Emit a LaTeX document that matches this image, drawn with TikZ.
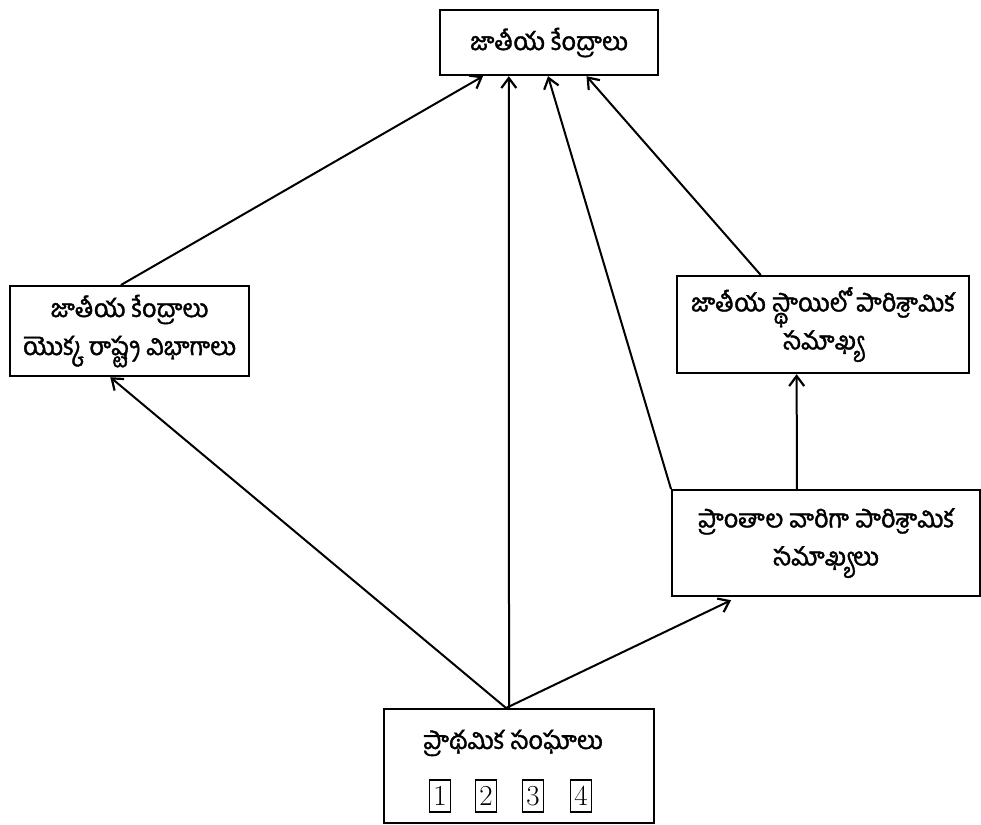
\documentclass[tikz,border=0pt]{standalone}
\usepackage{fontspec}
\newfontfamily\te[Script=Telugu,FakeBold=1.5]{Hind Guntur}
\usetikzlibrary{arrows.meta,calc}
\begin{document}
\begin{tikzpicture}[x=1pt,y=-1pt,
  box/.style={draw, line width=2.2pt, inner sep=0pt, anchor=north west},
  conn/.style={line width=2pt, -{Straight Barb[length=10pt,width=15pt,line width=2.2pt]}},
  lab/.style={font=\te\fontsize{25}{38}\selectfont, align=center, inner sep=0pt},
  num/.style={draw, line width=1.8pt, minimum width=21pt, minimum height=32pt, inner sep=0pt, font=\fontsize{29}{29}\selectfont}
]
\useasboundingbox (0,0) rectangle (981,824);
\fill[white] (0,0) rectangle (981,824);

% boxes
\node[box, minimum width=218pt, minimum height=65pt] (T) at (439,9) {};
\node[lab] (Tt) at (T.center) {జాతీయ కేంద్రాలు};

\node[box, minimum width=239pt, minimum height=90pt] (L) at (9,285) {};
\node[lab] (Lt) at (L.center) {జాతీయ కేంద్రాలు\\యొక్క రాష్ట్ర విభాగాలు};

\node[box, minimum width=292pt, minimum height=97pt] (UR) at (676,275) {};
\node[lab] (URt) at (UR.center) {జాతీయ స్థాయిలో పారిశ్రామిక\\సమాఖ్య};

\node[box, minimum width=308pt, minimum height=106pt] (LR) at (671,489) {};
\node[lab] (LRt) at (LR.center) {ప్రాంతాల వారిగా పారిశ్రామిక\\సమాఖ్యలు};

\node[box, minimum width=270pt, minimum height=114pt] (B) at (383,708) {};
\node[lab] (Bt) at (513,743) {ప్రాథమిక సంఘాలు};
\node[num] (n1) at (440,796) {1};
\node[num] (n2) at (486,796) {2};
\node[num] (n3) at (533,796) {3};
\node[num] (n4) at (581,796) {4};

% connectors
\draw[conn] ($(L.north west)!.464!(L.north east)$) -- ($(T.south west)!.20!(T.south east)$);
\draw[conn] ($(B.north west)!.463!(B.north east)$) -- ($(T.south west)!.317!(T.south east)$);
\draw[conn] (LR.north west) -- ($(T.south west)!.495!(T.south east)$);
\draw[conn] ($(UR.north west)!.288!(UR.north east)$) -- ($(T.south west)!.67!(T.south east)$);
\draw[conn] ($(LR.north west)!.406!(LR.north east)$) -- ($(UR.south west)!.41!(UR.south east)$);
\draw[conn] ($(B.north west)!.452!(B.north east)$) -- ($(L.south west)!.42!(L.south east)$);
\draw[conn, shorten >=7pt] ($(B.north west)!.452!(B.north east)$) -- ($(LR.south west)!.214!(LR.south east)$);
\end{tikzpicture}
\end{document}
